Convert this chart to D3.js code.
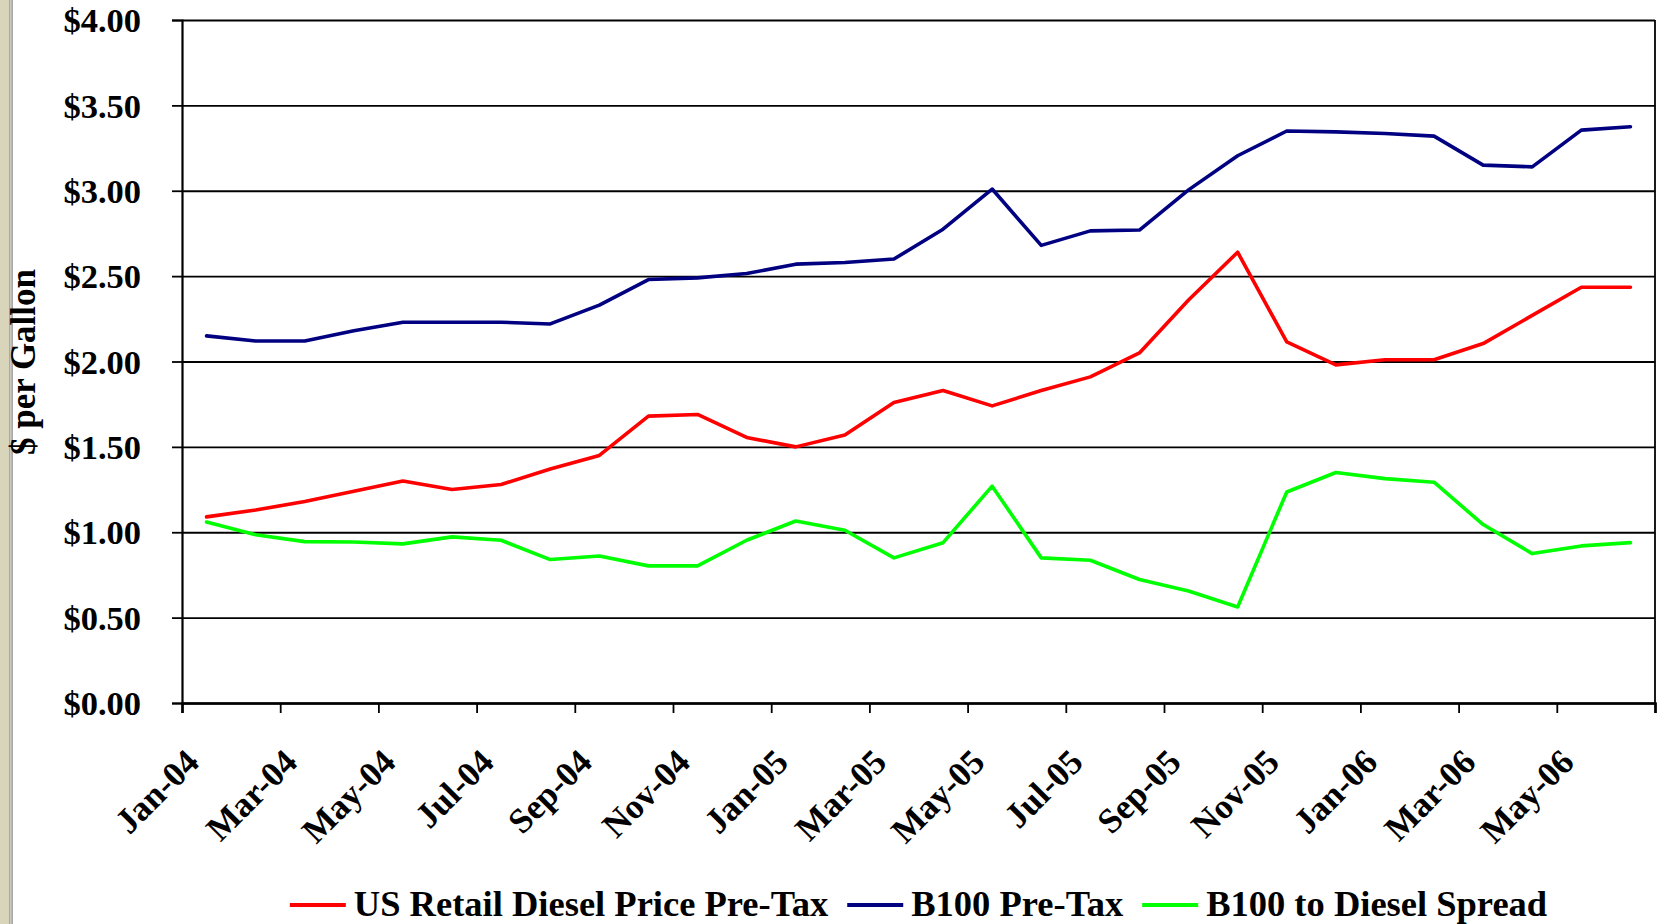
<!DOCTYPE html>
<html>
<head>
<meta charset="utf-8">
<script src="https://cdn.jsdelivr.net/npm/d3@7"></script>
<style>
  html, body { margin: 0; padding: 0; background: #ffffff; }
  svg { display: block; }
</style>
</head>
<body>
<svg id="chart" width="1666" height="924"></svg>
<script>
// ---- Data ----
const months = ["Jan-04","Feb-04","Mar-04","Apr-04","May-04","Jun-04","Jul-04","Aug-04","Sep-04","Oct-04","Nov-04","Dec-04",
                "Jan-05","Feb-05","Mar-05","Apr-05","May-05","Jun-05","Jul-05","Aug-05","Sep-05","Oct-05","Nov-05","Dec-05",
                "Jan-06","Feb-06","Mar-06","Apr-06","May-06","Jun-06"];
const dieselPrice = [1.09,1.13,1.18,1.24,1.30,1.25,1.28,1.37,1.45,1.68,1.69,1.555,
                     1.50,1.57,1.76,1.83,1.74,1.83,1.91,2.05,2.36,2.64,2.115,1.98,
                     2.01,2.01,2.105,2.27,2.435,2.435];
const b100Price = [2.15,2.12,2.12,2.18,2.23,2.23,2.23,2.22,2.33,2.48,2.49,2.515,
                   2.57,2.58,2.60,2.775,3.01,2.68,2.765,2.77,3.005,3.205,3.35,3.345,
                   3.335,3.32,3.15,3.14,3.355,3.375];
const spread = [1.06,0.985,0.945,0.943,0.932,0.973,0.953,0.84,0.861,0.803,0.803,0.953,
                1.066,1.012,0.85,0.939,1.27,0.85,0.836,0.723,0.656,0.5625,1.236,1.35,
                1.314,1.293,1.045,0.875,0.92,0.939];
const seriesNames = ["US Retail Diesel Price Pre-Tax","B100 Pre-Tax","B100 to Diesel Spread"];
const seriesColors = ["#ff0000","#000080","#00ff00"];
const yTicks = [0,0.5,1,1.5,2,2.5,3,3.5,4];
const yTitle = "$ per Gallon";

const seriesData = [dieselPrice, b100Price, spread];

(function draw(){
// ---- Layout ----
const svg = d3.select("#chart");
const pL = 182, pR = 1655, pT = 20, pB = 703;
const fontFam = "'Liberation Serif', 'Times New Roman', serif";

// frame decoration at left edge
svg.append("rect").attr("x",0).attr("y",0).attr("width",9).attr("height",924).attr("fill","#d9d5bb");
svg.append("rect").attr("x",9).attr("y",0).attr("width",4).attr("height",924).attr("fill","#a9a9a9");
svg.append("rect").attr("x",10).attr("y",0).attr("width",1.5).attr("height",924).attr("fill","#c8c8c8");

const x = d3.scaleLinear().domain([0, months.length]).range([pL, pR]);
const y = d3.scaleLinear().domain([0, 4]).range([pB, pT]);

// gridlines
svg.append("g")
  .attr("transform", `translate(${pL},0)`)
  .call(d3.axisLeft(y).tickValues(yTicks).tickSize(-(pR-pL)).tickFormat(""))
  .call(g => g.select(".domain").remove())
  .call(g => g.selectAll("line").attr("stroke","#000").attr("stroke-width",1.8));

// right border
svg.append("line").attr("x1",pR).attr("x2",pR).attr("y1",pT).attr("y2",pB)
  .attr("stroke","#000").attr("stroke-width",1.8);

// y axis
const yAxis = svg.append("g")
  .attr("transform", `translate(${pL},0)`)
  .call(d3.axisLeft(y).tickValues(yTicks).tickSize(10).tickPadding(31)
        .tickFormat(d => "$" + d.toFixed(2)));
yAxis.select(".domain").attr("stroke","#000").attr("stroke-width",2.2);
yAxis.selectAll(".tick line").attr("stroke","#000").attr("stroke-width",1.8);
yAxis.selectAll(".tick text")
  .attr("font-family",fontFam)
  .attr("font-weight","bold")
  .attr("font-size","34.5px")
  .attr("fill","#000")
  .attr("dy","0.34em");

// x axis
const xTickVals = d3.range(0, months.length + 1, 2);
const xAxis = svg.append("g")
  .attr("transform", `translate(0,${pB})`)
  .call(d3.axisBottom(x).tickValues(xTickVals).tickSize(10).tickFormat(""));
xAxis.select(".domain").attr("stroke","#000").attr("stroke-width",2.6);
xAxis.selectAll(".tick line").attr("stroke","#000").attr("stroke-width",1.8);

// rotated x labels
svg.append("g").selectAll("text")
  .data(months.map((m,i)=>({m,i})).filter(d => d.i % 2 === 0))
  .join("text")
  .attr("transform", d => `translate(${x(d.i) + 19},${764}) rotate(-45)`)
  .attr("text-anchor","end")
  .attr("font-family",fontFam)
  .attr("font-weight","bold")
  .attr("font-size","35px")
  .attr("fill","#000")
  .text(d => d.m);

// y title
svg.append("text")
  .attr("transform", "translate(35,362) rotate(-90)")
  .attr("text-anchor","middle")
  .attr("font-family",fontFam)
  .attr("font-weight","bold")
  .attr("font-size","35px")
  .attr("fill","#000")
  .text(yTitle);

// lines
const line = d3.line().x((d,i) => x(i + 0.5)).y(d => y(d));
svg.append("g").selectAll("path")
  .data(seriesData)
  .join("path")
  .attr("d", d => line(d))
  .attr("fill","none")
  .attr("stroke", (d,i) => seriesColors[i])
  .attr("stroke-width", 3.6)
  .attr("stroke-linejoin","round")
  .attr("stroke-linecap","round");

// legend
const legend = svg.append("g");
const legY = 905, lineW = 56, gapLT = 8, gapItem = 19;
const items = legend.selectAll("g").data(seriesNames).join("g");
items.append("line")
  .attr("x1",0).attr("x2",lineW).attr("y1",0).attr("y2",0)
  .attr("stroke",(d,i)=>seriesColors[i]).attr("stroke-width",3.8);
items.append("text")
  .attr("x", lineW + gapLT).attr("y", 11)
  .attr("font-family",fontFam)
  .attr("font-weight","bold")
  .attr("font-size","36.5px")
  .attr("fill","#000")
  .text(d => d);
const widths = [];
items.each(function(){ widths.push(lineW + gapLT + this.querySelector("text").getComputedTextLength()); });
const total = d3.sum(widths) + gapItem*(widths.length-1);
let cx = (pL + pR)/2 - total/2;
items.each(function(d,i){
  d3.select(this).attr("transform", `translate(${cx},${legY})`);
  cx += widths[i] + gapItem;
});
})();
</script>
</body>
</html>
